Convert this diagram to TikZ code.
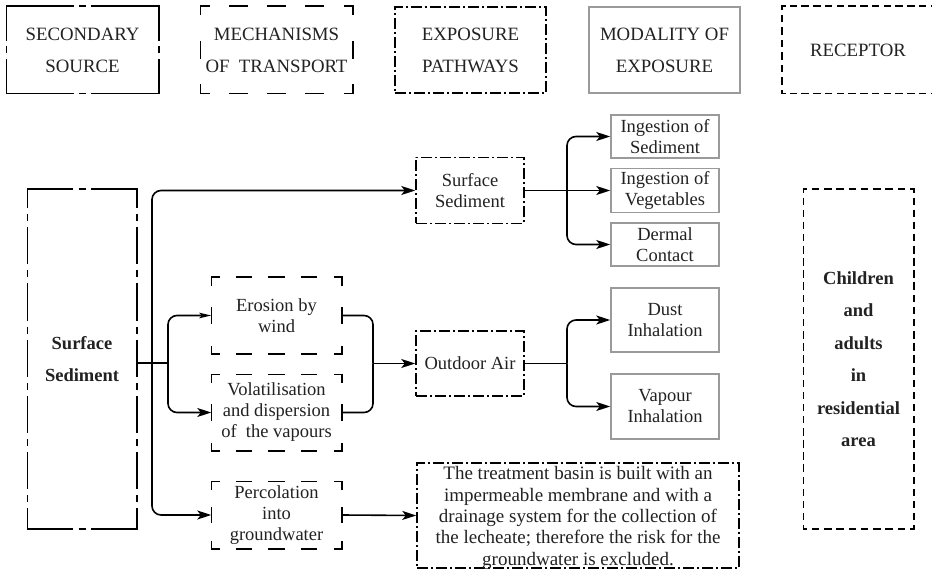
\documentclass[tikz,border=0pt]{standalone}
\usepackage{fontspec}
\setmainfont{Liberation Serif}
\usetikzlibrary{arrows.meta,calc}
\definecolor{txt}{HTML}{222222}
\definecolor{modgray}{HTML}{9A9A9A}
\tikzset{
  base/.style={inner sep=0pt, align=center, text=txt, font=\fontsize{18.5}{21}\selectfont, line width=1.5pt},
  hdr/.style={base, font=\fontsize{18.8}{32}\selectfont, minimum width=151pt, minimum height=86pt},
  pathbox/.style={draw, dash pattern=on 11pt off 3pt on 2pt off 3pt},
  modbox/.style={draw=modgray, line width=1.5pt},
  sideline/.style={line width=1.5pt, line cap=rect},
  arr/.style={line width=1.6pt, -{Stealth[length=14pt,width=9pt,inset=3.5pt]}},
  arrs/.style={line width=1.6pt, -{Stealth[length=12pt,width=5.5pt,inset=2.5pt]}},
  ln/.style={line width=1.6pt},
  rc/.style={rounded corners=9pt}
}
% dashed side with half dashes at both ends: #1 dash length, #2 periods, #3 from, #4 to
\newcommand\cdline[4]{%
  \path (#3); \pgfgetlastxy{\cdax}{\cday}%
  \path (#4); \pgfgetlastxy{\cdbx}{\cdby}%
  \pgfmathsetmacro\cdL{veclen(\cdbx-\cdax,\cdby-\cday)}%
  \pgfmathsetmacro\cdG{\cdL/#2-#1}%
  \pgfmathsetmacro\cdP{#1/2}%
  \draw[sideline, dash pattern=on #1pt off \cdG pt, dash phase=\cdP pt] (#3) -- (#4);%
}
\newcommand\cdbox[4]{%
  \cdline{#2}{#3}{#1.north west}{#1.north east}%
  \cdline{#2}{#3}{#1.south west}{#1.south east}%
  \cdline{#2}{#4}{#1.north west}{#1.south west}%
  \cdline{#2}{#4}{#1.north east}{#1.south east}%
}
% side with long dash, one short dash in the middle, long dash
\newcommand\sdone[2]{%
  \coordinate (sdm) at ($(#1)!0.5!(#2)$);%
  \draw[sideline] (#1) -- ($(sdm)!9.5pt!(#1)$);%
  \draw[line width=1.5pt] ($(sdm)!3.5pt!(#1)$) -- ($(sdm)!3.5pt!(#2)$);%
  \draw[sideline] ($(sdm)!9.5pt!(#2)$) -- (#2);%
}
% long dash / short dash side with many periods: #1 long dash length, #2 from, #3 to
\newcommand\sdline[3]{%
  \pgfmathsetmacro\sdP{#1/2}%
  \draw[line width=1.5pt, dash pattern=on #1pt off 6pt on 7pt off 6pt, dash phase=\sdP pt] (#2) -- (#3);%
}
\begin{document}
\begin{tikzpicture}[x=1pt,y=-1pt]
\useasboundingbox (0,0) rectangle (932,572);
\fill[white] (0,0) rectangle (932,572);
\clip (0,0) rectangle (932,572);
% headers
\node[hdr]          (hs)   at (82.5,50)  {SECONDARY\\SOURCE};
\node[hdr]          (hm)   at (276.5,50) {MECHANISMS\\OF\ \ TRANSPORT};
\node[hdr, pathbox] (hp)   at (470.5,50) {EXPOSURE\\PATHWAYS};
\node[hdr, modbox]  (hmod) at (664.5,50) {MODALITY OF\\EXPOSURE};
\node[hdr]          (hr)   at (858,50)   {RECEPTOR};
% source
\node[base, font=\bfseries\fontsize{18.5}{32}\selectfont, minimum width=108pt, minimum height=338pt] (ss) at (82,359) {Surface\\Sediment};
% mechanisms
\node[base, minimum width=129pt, minimum height=75pt] (eros) at (276.5,315.5) {Erosion by\\wind};
\node[base, minimum width=129pt, minimum height=75pt] (vol) at (276.5,412.5) {Volatilisation\\and dispersion\\of\ \ the vapours};
\node[base, minimum width=129pt, minimum height=66pt] (perc) at (276.5,515) {Percolation\\into\\groundwater};
% pathways
\node[base, pathbox, minimum width=108pt, minimum height=66pt] (pss) at (470,190.5) {Surface\\Sediment};
\node[base, pathbox, minimum width=108pt, minimum height=65pt] (oa) at (470,363.5) {Outdoor Air};
\node[base, pathbox, minimum width=322pt, minimum height=105pt] (treat) at (578,515.5) {};
\node[base, font=\fontsize{19}{21.3}\selectfont] (treattxt) at (578,518) {The treatment basin is built with an\\impermeable membrane and with a\\drainage system for the collection of\\the lecheate; therefore the risk for the\\groundwater is excluded.};
% modality
\node[base, modbox, minimum width=108pt, minimum height=43pt] (is) at (665,136.5) {Ingestion of\\Sediment};
\node[base, modbox, minimum width=108pt, minimum height=44pt] (iv) at (665,190.5) {Ingestion of\\Vegetables};
\node[base, modbox, minimum width=108pt, minimum height=43pt] (dc) at (665,244.5) {Dermal\\Contact};
\node[base, modbox, minimum width=108pt, minimum height=64pt] (di) at (665,320) {Dust\\Inhalation};
\node[base, modbox, minimum width=108pt, minimum height=65pt] (vi) at (665,406.5) {Vapour\\Inhalation};
% receptor
\node[base, font=\bfseries\fontsize{18.5}{32.5}\selectfont, minimum width=109pt, minimum height=338pt] (rec) at (858.5,359) {Children\\and\\adults\\in\\residential\\area};
% box outlines
\sdone{hs.north west}{hs.north east}
\sdone{hs.south west}{hs.south east}
\sdone{hs.north west}{hs.south west}
\sdone{hs.north east}{hs.south east}
\sdone{ss.north west}{ss.north east}
\sdone{ss.south west}{ss.south east}
\sdline{37.3}{ss.north west}{ss.south west}
\sdline{37.3}{ss.north east}{ss.south east}
\cdbox{hm}{17}{4}{2}
\cdbox{eros}{15}{4}{2}
\cdbox{vol}{15}{4}{2}
\cdbox{perc}{15}{4}{2}
\cdbox{hr}{6}{13}{7}
\cdbox{rec}{6}{9}{28}
% junctions
\coordinate (jA) at (152,363);
\coordinate (jB) at (168,363);
\coordinate (jC) at (373,363.5);
\coordinate (jD) at (567,190.5);
\coordinate (jE) at (567,363.5);
% connectors
\draw[ln] (ss.east |- jB) -- (jB);
\draw[arr, rc] (jA) |- (pss.west);
\draw[arr, rc] (jA) |- (perc.west);
\draw[arrs, rc] (jB) |- (eros.west);
\draw[arr, rc] (jB) |- (vol.west);
\draw[ln, rc] (eros.east) -| (jC);
\draw[ln, rc] (vol.east) -| (jC);
\draw[arr] (jC) -- (oa.west);
\draw[arr] (perc.east) -- (treat.west);
\draw[arr] (pss.east) -- (iv.west);
\draw[arr, rc] (jD) |- (is.west);
\draw[arr, rc] (jD) |- (dc.west);
\draw[ln] (oa.east) -- (jE);
\draw[arr, rc] (jE) |- (di.west);
\draw[arr, rc] (jE) |- (vi.west);
\end{tikzpicture}
\end{document}
